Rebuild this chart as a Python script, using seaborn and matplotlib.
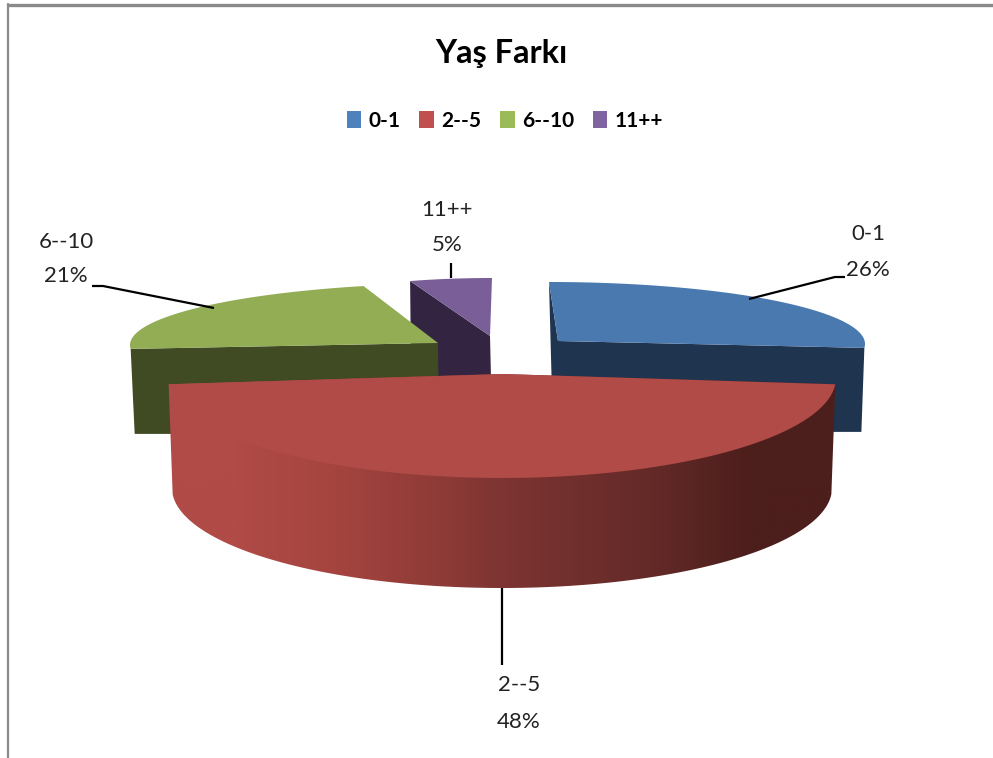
import numpy as np
import matplotlib
matplotlib.use("Agg")
import matplotlib.pyplot as plt
from matplotlib.colors import LinearSegmentedColormap
from matplotlib.patches import Polygon, Patch
import seaborn as sns

# ---- data ----
categories = ["0-1", "2--5", "6--10", "11++"]
values = [26, 48, 21, 5]
title = "Yaş Farkı"

# ---- style ----
legend_colors = ["#4f81bd", "#c0504d", "#9bbb59", "#8064a2"]
top_colors = ["#4a79b0", "#b04b47", "#93ad55", "#795e98"]
side_colors = ["#1f344f", "#4c1e1c", "#404b23", "#332541"]
sns.set_theme(style="white", palette=sns.color_palette(legend_colors))
plt.rcParams["font.family"] = ["Lato", "DejaVu Sans"]

# ---- layout in pixels: rim centre, radii, apex, depth of each exploded slice ----
rim = {
    "0-1": dict(c=(549, 344), r=(316, 62), apex=(558, 341), depth=84),
    "2--5": dict(c=(502, 378), r=(334, 100), apex=(502, 374), depth=110),
    "6--10": dict(c=(468, 345), r=(338, 62), apex=(438, 343), depth=85),
    "11++": dict(c=(492, 340), r=(265, 62), apex=(490, 336), depth=42),
}

fig = plt.figure(figsize=(9.93, 7.58), dpi=100)
ax = fig.add_axes([0, 0, 1, 1])
ax.set_xlim(0, 993)
ax.set_ylim(758, 0)
ax.axis("off")

# angles come from the values, clockwise from 12 o'clock
edges = np.cumsum([0] + values) / sum(values) * 2 * np.pi
spans = {c: (edges[i], edges[i + 1]) for i, c in enumerate(categories)}


def rim_points(name, n=80, shift=(0, 0), scale=1.0):
    g = rim[name]
    t = np.linspace(*spans[name], n)
    x = g["c"][0] + shift[0] + g["r"][0] * scale * np.sin(t)
    y = g["c"][1] + shift[1] - g["r"][1] * np.cos(t)
    return np.column_stack([x, y])


def top_face(name):
    pts = np.vstack([[rim[name]["apex"]], rim_points(name)])
    ax.add_patch(Polygon(pts, closed=True, fc=top_colors[categories.index(name)],
                         ec="none", zorder=zo[name] + 0.5))


def side_face(name, quad):
    ax.add_patch(Polygon(quad, closed=True, fc=side_colors[categories.index(name)],
                         ec="none", zorder=zo[name]))


zo = {"11++": 2, "6--10": 3, "0-1": 4, "2--5": 5}

# back slices: only their cut faces and outer walls show
p = rim_points("11++")
a = rim["11++"]["apex"]
side_face("11++", [p[0], a, (a[0] + 1, a[1] + rim["11++"]["depth"]),
                   (p[0][0] + 1, a[1] + rim["11++"]["depth"])])
top_face("11++")

p = rim_points("6--10")
a = rim["6--10"]["apex"]
d = rim["6--10"]["depth"]
side_face("6--10", [p[0], a, (a[0] + 1, a[1] + 91), (p[0][0] + 4, p[0][1] + d)])
top_face("6--10")

p = rim_points("0-1")
a = rim["0-1"]["apex"]
d = rim["0-1"]["depth"]
side_face("0-1", [p[0], a, p[-1], (p[-1][0] - 3, p[-1][1] + d),
                  (p[0][0] + 4, p[-1][1] + d)])
top_face("0-1")

# front slice: shaded wall (whole silhouette, so no seam under the top face)
top = rim_points("2--5", 200)
bottom = rim_points("2--5", 200, shift=(0, 110), scale=330 / 334)
outline = np.vstack([[rim["2--5"]["apex"]], top[:1], bottom, top[-1:]])
wall = Polygon(outline, closed=True, fc="none", ec="none", transform=ax.transData)
ax.add_patch(wall)
stops = [(0.0, "#b04b47"), (0.1, "#b04b47"), (0.25, "#a5443f"), (0.42, "#8c3a36"),
         (0.5, "#7d3432"), (0.72, "#642a28"), (0.87, "#4c1e1c"), (1.0, "#4c1e1c")]
cmap = LinearSegmentedColormap.from_list("wall", stops)
im = ax.imshow(np.linspace(0, 1, 512)[None, :], cmap=cmap, aspect="auto",
               extent=(168, 838, 600, 370), zorder=zo["2--5"])
im.set_clip_path(wall)
ax.set_xlim(0, 993)
ax.set_ylim(758, 0)
top_face("2--5")

# leader lines
leaders = {
    "0-1": [(749, 299), (835, 277), (845, 277)],
    "2--5": [(502, 588), (502, 665)],
    "6--10": [(92, 286), (103, 286), (214, 308)],
    "11++": [(451, 263), (451, 278)],
}
for name, pts in leaders.items():
    xs, ys = zip(*pts)
    ax.plot(xs, ys, color="black", lw=1.6, solid_capstyle="butt", zorder=8)

# data labels
label_pos = {
    "0-1": (868, 234, 270),
    "2--5": (519, 685, 722),
    "6--10": (66, 242, 276),
    "11++": (447, 210, 245),
}
for name, value in zip(categories, values):
    x, y1, y2 = label_pos[name]
    ax.text(x, y1, name, ha="center", va="center", fontsize=16, color="#222222")
    ax.text(x, y2, f"{round(100 * value / sum(values))}%", ha="center", va="center",
            fontsize=16, color="#222222")

# frame lines of the embedded chart
ax.plot([8, 993], [4.5, 4.5], color="#8a8a8a", lw=2.4, zorder=1)
ax.plot([8, 8], [4, 758], color="#8a8a8a", lw=1.6, zorder=1)

ax.text(501, 53, title, ha="center", va="center", fontsize=23.5, fontweight="bold",
        color="black")

handles = [Patch(fc=c, ec="none") for c in legend_colors]
ax.legend(handles, categories, ncols=4, loc="center", bbox_to_anchor=(505 / 993, 1 - 121 / 758),
          bbox_transform=fig.transFigure, frameon=False, handlelength=0.7, handleheight=0.85,
          handletextpad=0.35, columnspacing=0.9,
          prop={"family": "Lato", "weight": "bold", "size": 15}, labelcolor="black")

fig.savefig("out.png", dpi=100, facecolor="white")
